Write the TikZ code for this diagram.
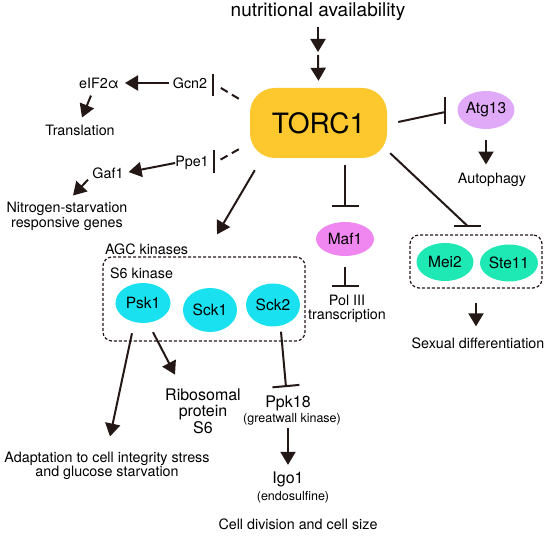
\documentclass[tikz,border=0pt]{standalone}
\usepackage{fontspec}
\setmainfont{TeX Gyre Heros}
\usetikzlibrary{arrows.meta,shapes.geometric,calc}
\definecolor{lc}{RGB}{35,24,21}
\definecolor{torcc}{RGB}{252,200,46}
\definecolor{cyanc}{RGB}{25,225,240}
\definecolor{mafc}{RGB}{240,135,240}
\definecolor{atgc}{RGB}{225,170,248}
\definecolor{meic}{RGB}{30,232,180}
\begin{document}
\begin{tikzpicture}[x=1pt,y=-1pt,
  lbl/.style={inner sep=0pt, align=center, font=\fontsize{14.3}{15}\selectfont},
  ell/.style={ellipse, inner sep=0pt, font=\fontsize{15.5}{16}\selectfont},
  dbox/.style={draw=lc, line width=1.2pt, dash pattern=on 3pt off 2pt, rounded corners=9pt},
  ar/.style={draw=lc, line width=2pt, -{Triangle[width=15pt,length=13pt]}},
  inh/.style={draw=lc, line width=2pt, -{Bar[width=27pt]}},
  ln/.style={draw=lc, line width=2pt},
  bar/.style={draw=lc, line width=2pt},
  dsh/.style={draw=lc, line width=2pt, dash pattern=on 8pt off 5pt}]
\useasboundingbox (0,0) rectangle (550,537);

% nodes
\node[inner sep=0pt, font=\fontsize{19}{21}\selectfont] (nut) at (318,12) {nutritional availability};
\node[rounded corners=25pt, fill=torcc, minimum width=137pt, minimum height=70pt, inner sep=0pt,
      font=\fontsize{28}{30}\selectfont] (torc) at (318.5,123) {TORC1};
\coordinate (dbl) at (318,53.5);

\node[lbl] (gcn) at (190,83) {Gcn2};
\node[lbl] (eif) at (99,83) {eIF2α};
\node[lbl] (trans) at (80,130) {Translation};
\node[lbl] (ppe) at (192,163) {Ppe1};
\node[lbl] (gaf) at (108,173) {Gaf1};
\node[lbl] (nitro) at (67,216) {Nitrogen-starvation\\responsive genes};

\node[lbl, anchor=west] (agcl) at (105,249) {AGC kinases};
\node[dbox, minimum width=202pt, minimum height=84pt] (agcbox) at (204,299) {};
\node[lbl, anchor=west] (s6l) at (110,273) {S6 kinase};
\node[ell, fill=cyanc, minimum width=55pt, minimum height=40pt] (psk) at (143,303) {Psk1};
\node[ell, fill=cyanc, minimum width=54pt, minimum height=44pt] (sck1) at (210,310) {Sck1};
\node[ell, fill=cyanc, minimum width=54pt, minimum height=43pt] (sck2) at (273,305) {Sck2};

\node[lbl, font=\fontsize{16}{16.5}\selectfont] (ribo) at (203,411.3) {Ribosomal\\protein\\S6};
\node[lbl, font=\fontsize{14.3}{14}\selectfont] (adapt) at (107,465.5) {Adaptation to cell integrity stress\\and glucose starvation};

\node[lbl, font=\fontsize{16}{17}\selectfont] (ppk) at (288,403.9) {Ppk18};
\node[lbl, font=\fontsize{12.5}{13}\selectfont] (gwk) at (292,419.2) {(greatwall kinase)};
\node[lbl, font=\fontsize{16}{17}\selectfont] (igo) at (288,479.6) {Igo1};
\node[lbl, font=\fontsize{12.5}{13}\selectfont] (endo) at (293,497) {(endosulfine)};
\node[lbl] (cell) at (298,524) {Cell division and cell size};

\node[ell, fill=mafc, minimum width=58pt, minimum height=34pt] (maf) at (345,239) {Maf1};
\node[lbl, font=\fontsize{14.3}{14}\selectfont] (pol) at (347,308.5) {Pol III\\transcription};

\node[ell, fill=atgc, minimum width=57pt, minimum height=38pt] (atg) at (486,110) {Atg13};
\node[lbl] (auto) at (492,179.5) {Autophagy};

\node[dbox, minimum width=132pt, minimum height=53pt] (sexbox) at (476,261.5) {};
\node[ell, fill=meic, minimum width=57pt, minimum height=38pt] (mei) at (445,262) {Mei2};
\node[ell, fill=meic, minimum width=58pt, minimum height=37pt] (ste) at (509,263) {Ste11};
\node[lbl] (sex) at (478,343) {Sexual differentiation};

% connectors
\draw[ar] ($(nut.south)+(0,6)$) -- ($(dbl)+(0,-1.5)$);
\draw[ar] ($(dbl)+(0,1.5)$) -- ($(torc.north)+(0,-7)$);

\draw[ar, shorten <=4pt, shorten >=6pt] (gcn.west) -- (eif.east);
\draw[ar] ($(eif.south)+(-8,7)$) -- ($(trans.north)+(2,-7)$);
\draw[dsh] ($(torc.north west)+(-11,11)$) -- ($(gcn.east)+(12,4)$);
\draw[bar] ($(gcn.east)+(6,-9)$) -- ++(0,22);

\draw[dsh] ($(torc.south west)+(-11,-9)$) -- ($(ppe.east)+(11,-3)$);
\draw[bar] ($(ppe.east)+(5,-13)$) -- ++(0,23);
\draw[ar, shorten >=5pt] (ppe.west) -- (gaf.east);
\draw[ar] ($(gaf.south)+(-20,1)$) -- ($(nitro.north)+(6,-6)$);

\draw[ar] ($(torc.south west)+(5,12)$) -- ($(agcbox.north)+(13,-22)$);

\draw[inh] ($(maf.north |- torc.south)+(0,7)$) -- ($(maf.north)+(0,-15)$);
\draw[inh] ($(maf.south)+(0,11)$) -- ($(maf.south |- pol.north)+(0,-8)$);

\draw[ln] ($(torc.east)+(11,-1)$) -- ($(atg.west)+(-12,2)$);
\draw[bar] ($(atg.west)+(-12,-13)$) -- ++(0,27);
\draw[ar] ($(atg.south)+(0,11)$) -- ($(auto.north)+(-6,-8)$);

\coordinate (sexbar) at ($(sexbox.north)+(-8,-8)$);
\draw[ln] ($(torc.south east)+(3,-5)$) -- (sexbar);
\draw[bar] ($(sexbar)+(-14,0)$) -- ($(sexbar)+(13,0)$);
\draw[ar] ($(sexbox.south)+(0,14)$) -- ($(sex.north)+(-2,-11)$);

\draw[ar] ($(psk.south)+(10,9)$) -- ($(ribo.north)+(-28,-14)$);
\draw[ar] ($(psk.south)+(-11,10)$) -- ($(adapt.north)+(3,-15)$);

\draw[inh] ($(sck2.south)+(8,5)$) -- ($(ppk.north)+(-2,-9)$);
\draw[ar] ($(gwk.south)+(-4,3)$) -- ($(igo.north)+(0,-7)$);
\end{tikzpicture}
\end{document}
